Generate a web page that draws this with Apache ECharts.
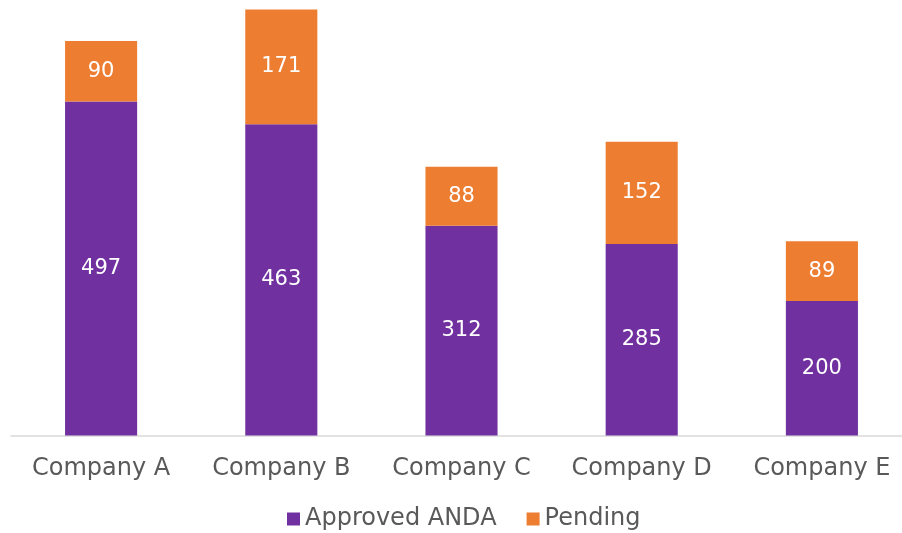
<!DOCTYPE html>
<html><head><meta charset="utf-8">
<script src="https://cdn.jsdelivr.net/npm/echarts@6/dist/echarts.min.js"></script>
<style>html,body{margin:0;padding:0;background:#fff;overflow:hidden;width:902px;height:533px}#c{width:912px;height:533px}</style>
</head><body><div id="c"></div>
<script>
const categories = ['Company A','Company B','Company C','Company D','Company E'];
const approved = [497, 463, 312, 285, 200];
const pending = [90, 171, 88, 152, 89];
const FONT = 'DejaVu Sans';
const chart = echarts.init(document.getElementById('c'));
chart.setOption({
  animation:false,
  textStyle:{fontFamily:FONT},
  grid:{left:11, right:0, top:0, bottom:97.5, containLabel:false},
  xAxis:{type:'category', data:categories,
    axisLine:{lineStyle:{color:'#D9D9D9', width:1.5}}, axisTick:{show:false},
    axisLabel:{color:'#595959', fontSize:24, fontFamily:FONT, margin:21, interval:0}},
  yAxis:{type:'value', min:0, max:648, show:false, splitLine:{show:false}},
  legend:{top:507, left:287, padding:0, itemWidth:13, itemHeight:13, itemGap:30,
    icon:'rect', textStyle:{color:'#595959', fontSize:24, fontFamily:FONT}},
  series:[
    {name:'Approved ANDA', type:'bar', stack:'t', data:approved, barWidth:'40%',
      itemStyle:{color:'#7030A0'},
      label:{show:true, position:'inside', color:'#fff', fontSize:21, fontFamily:FONT}},
    {name:'Pending', type:'bar', stack:'t', data:pending, barWidth:'40%',
      itemStyle:{color:'#ED7D31'},
      label:{show:true, position:'inside', color:'#fff', fontSize:21, fontFamily:FONT}}
  ]
});
</script></body></html>
